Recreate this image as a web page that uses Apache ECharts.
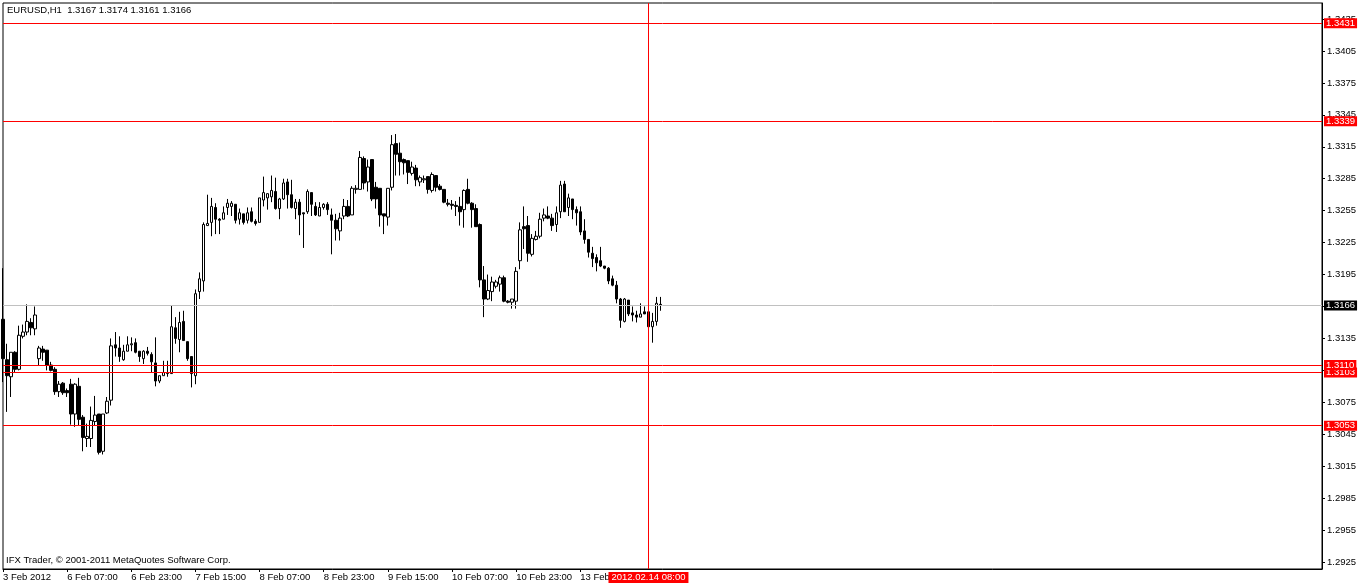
<!DOCTYPE html>
<html><head><meta charset="utf-8">
<script src="https://cdn.jsdelivr.net/npm/echarts@6/dist/echarts.min.js"></script>
<style>html,body{margin:0;padding:0;background:#fff}#c{width:1360px;height:586px}</style>
</head><body><div id="c"></div>
<script>
// ---- data (EURUSD H1, bars from 3 Feb 2012 15:00) ----
const opens = [1.3153,1.3115,1.3099,1.3122,1.3106,1.3137,1.3141,1.3150,1.3144,1.3116,1.3125,1.3124,1.3110,1.3106,1.3085,1.3093,1.3086,1.3092,1.3064,1.3090,1.3061,1.3041,1.3041,1.3057,1.3064,1.3029,1.3065,1.3077,1.3129,1.3126,1.3115,1.3123,1.3129,1.3131,1.3123,1.3116,1.3123,1.3120,1.3112,1.3095,1.3100,1.3102,1.3102,1.3145,1.3134,1.3151,1.3132,1.3118,1.3100,1.3179,1.3189,1.3241,1.3244,1.3258,1.3247,1.3247,1.3258,1.3259,1.3261,1.3247,1.3252,1.3246,1.3254,1.3245,1.3244,1.3265,1.3267,1.3268,1.3273,1.3257,1.3266,1.3282,1.3270,1.3257,1.3263,1.3253,1.3254,1.3272,1.3259,1.3250,1.3258,1.3261,1.3251,1.3246,1.3236,1.3250,1.3259,1.3251,1.3275,1.3275,1.3304,1.3282,1.3303,1.3277,1.3276,1.3252,1.3249,1.3277,1.3318,1.3309,1.3303,1.3302,1.3290,1.3295,1.3282,1.3284,1.3287,1.3274,1.3288,1.3278,1.3275,1.3262,1.3261,1.3260,1.3259,1.3256,1.3275,1.3262,1.3257,1.3242,1.3190,1.3172,1.3179,1.3184,1.3186,1.3192,1.3170,1.3169,1.3170,1.3208,1.3240,1.3241,1.3214,1.3228,1.3231,1.3248,1.3250,1.3248,1.3242,1.3254,1.3280,1.3258,1.3266,1.3256,1.3254,1.3236,1.3228,1.3215,1.3211,1.3208,1.3203,1.3201,1.3191,1.3185,1.3172,1.3151,1.3171,1.3159,1.3157,1.3155,1.3160,1.3160,1.3146,1.3151,1.3167];
const highs = [1.3201,1.3130,1.3122,1.3123,1.3147,1.3148,1.3167,1.3154,1.3165,1.3128,1.3128,1.3124,1.3113,1.3108,1.3095,1.3094,1.3088,1.3097,1.3093,1.3098,1.3063,1.3055,1.3071,1.3081,1.3064,1.3064,1.3080,1.3135,1.3141,1.3137,1.3129,1.3137,1.3136,1.3135,1.3123,1.3124,1.3127,1.3122,1.3136,1.3100,1.3114,1.3114,1.3166,1.3155,1.3160,1.3161,1.3132,1.3118,1.3181,1.3197,1.3244,1.3270,1.3267,1.3262,1.3248,1.3259,1.3266,1.3264,1.3261,1.3257,1.3252,1.3258,1.3258,1.3247,1.3267,1.3287,1.3271,1.3288,1.3286,1.3267,1.3285,1.3285,1.3284,1.3266,1.3266,1.3253,1.3275,1.3272,1.3263,1.3263,1.3262,1.3263,1.3257,1.3252,1.3253,1.3266,1.3265,1.3278,1.3279,1.3311,1.3306,1.3303,1.3303,1.3282,1.3276,1.3252,1.3276,1.3326,1.3327,1.3319,1.3304,1.3302,1.3301,1.3298,1.3288,1.3288,1.3287,1.3291,1.3288,1.3280,1.3275,1.3266,1.3265,1.3264,1.3268,1.3275,1.3285,1.3263,1.3261,1.3243,1.3203,1.3195,1.3193,1.3190,1.3194,1.3194,1.3171,1.3172,1.3202,1.3244,1.3259,1.3250,1.3233,1.3236,1.3253,1.3257,1.3259,1.3252,1.3259,1.3283,1.3283,1.3271,1.3266,1.3259,1.3259,1.3247,1.3228,1.3221,1.3214,1.3221,1.3203,1.3202,1.3194,1.3189,1.3173,1.3173,1.3171,1.3165,1.3161,1.3168,1.3165,1.3160,1.3159,1.3174,1.3174];
const lows = [1.3094,1.3066,1.3080,1.3103,1.3105,1.3135,1.3138,1.3138,1.3138,1.3110,1.3114,1.3105,1.3104,1.3082,1.3080,1.3082,1.3080,1.3054,1.3052,1.3053,1.3029,1.3033,1.3033,1.3053,1.3026,1.3026,1.3064,1.3072,1.3118,1.3113,1.3114,1.3123,1.3123,1.3121,1.3113,1.3111,1.3119,1.3103,1.3090,1.3093,1.3100,1.3099,1.3102,1.3130,1.3122,1.3133,1.3114,1.3089,1.3092,1.3172,1.3179,1.3241,1.3231,1.3233,1.3233,1.3247,1.3251,1.3250,1.3243,1.3242,1.3242,1.3243,1.3244,1.3241,1.3244,1.3259,1.3256,1.3263,1.3256,1.3247,1.3265,1.3257,1.3257,1.3247,1.3232,1.3220,1.3252,1.3250,1.3250,1.3250,1.3256,1.3251,1.3214,1.3227,1.3227,1.3247,1.3249,1.3251,1.3271,1.3275,1.3275,1.3273,1.3264,1.3257,1.3240,1.3233,1.3241,1.3274,1.3288,1.3288,1.3289,1.3280,1.3288,1.3278,1.3278,1.3281,1.3271,1.3272,1.3273,1.3274,1.3262,1.3259,1.3256,1.3250,1.3241,1.3239,1.3261,1.3239,1.3240,1.3183,1.3155,1.3171,1.3170,1.3182,1.3179,1.3169,1.3168,1.3163,1.3163,1.3200,1.3219,1.3207,1.3212,1.3227,1.3229,1.3245,1.3247,1.3236,1.3235,1.3248,1.3254,1.3250,1.3247,1.3241,1.3232,1.3224,1.3211,1.3202,1.3198,1.3202,1.3200,1.3186,1.3184,1.3168,1.3145,1.3150,1.3156,1.3151,1.3150,1.3155,1.3158,1.3145,1.3131,1.3147,1.3161];
const closes = [1.3116,1.3100,1.3122,1.3106,1.3138,1.3141,1.3151,1.3145,1.3157,1.3126,1.3122,1.3110,1.3105,1.3085,1.3092,1.3084,1.3084,1.3064,1.3092,1.3059,1.3042,1.3043,1.3058,1.3063,1.3028,1.3064,1.3076,1.3128,1.3126,1.3118,1.3123,1.3129,1.3130,1.3122,1.3118,1.3123,1.3121,1.3113,1.3095,1.3100,1.3103,1.3103,1.3146,1.3135,1.3150,1.3133,1.3116,1.3102,1.3177,1.3191,1.3242,1.3243,1.3259,1.3247,1.3246,1.3253,1.3262,1.3262,1.3246,1.3253,1.3244,1.3253,1.3245,1.3243,1.3267,1.3272,1.3271,1.3274,1.3257,1.3266,1.3281,1.3270,1.3258,1.3263,1.3251,1.3252,1.3273,1.3261,1.3251,1.3258,1.3261,1.3256,1.3246,1.3238,1.3248,1.3259,1.3250,1.3276,1.3276,1.3305,1.3281,1.3296,1.3266,1.3266,1.3251,1.3250,1.3276,1.3317,1.3308,1.3301,1.3300,1.3291,1.3296,1.3284,1.3286,1.3285,1.3275,1.3289,1.3277,1.3275,1.3263,1.3261,1.3260,1.3259,1.3254,1.3274,1.3262,1.3256,1.3240,1.3190,1.3172,1.3180,1.3188,1.3188,1.3192,1.3170,1.3169,1.3172,1.3198,1.3237,1.3238,1.3215,1.3229,1.3231,1.3247,1.3251,1.3248,1.3241,1.3253,1.3279,1.3254,1.3267,1.3256,1.3253,1.3235,1.3228,1.3216,1.3210,1.3206,1.3203,1.3201,1.3189,1.3185,1.3172,1.3152,1.3172,1.3158,1.3157,1.3155,1.3158,1.3158,1.3146,1.3151,1.3168,1.3166];

const levelLines = [1.3431, 1.3339, 1.3103, 1.3110, 1.3053];
const bidPrice = 1.3166;
const yTicks = [1.2925,1.2955,1.2985,1.3015,1.3045,1.3075,1.3105,1.3135,1.3165,1.3195,1.3225,1.3255,1.3285,1.3315,1.3345,1.3375,1.3405,1.3435];
const xTickLabels = ['3 Feb 2012','6 Feb 07:00','6 Feb 23:00','7 Feb 15:00','8 Feb 07:00','8 Feb 23:00','9 Feb 15:00','10 Feb 07:00','10 Feb 23:00','13 Feb 15:00','14 Feb 07:00'];
const xTickStep = 16;
const crosshairIndex = 161;
const crosshairLabel = '2012.02.14 08:00';
const headerText = 'EURUSD,H1  1.3167 1.3174 1.3161 1.3166';
const copyrightText = 'IFX Trader, \u00A9 2001-2011 MetaQuotes Software Corp.';
const totalSlots = 330;

// hourly trading-time categories (weekends skipped)
const categories = [];
(function () {
  let t = Date.UTC(2012, 1, 3, 15);
  const p = n => (n < 10 ? '0' : '') + n;
  while (categories.length < totalSlots) {
    const d = new Date(t);
    const wd = d.getUTCDay();
    if (wd !== 0 && wd !== 6) {
      categories.push(d.getUTCFullYear() + '.' + p(d.getUTCMonth() + 1) + '.' + p(d.getUTCDate()) + ' ' + p(d.getUTCHours()) + ':00');
    }
    t += 3600000;
  }
})();

const candleData = opens.map((o, i) => [o, closes[i], lows[i], highs[i]]);

const FONT = 'Liberation Sans';
const FS = 9.5;
const redLabel = {
  show: true, position: 'end', distance: 2,
  formatter: p => Number(p.value).toFixed(4),
  color: '#fff', backgroundColor: '#ff0000',
  fontFamily: FONT, fontSize: FS, lineHeight: 10, padding: [0, 2, 0, 2]
};

const chart = echarts.init(document.getElementById('c'), null, { renderer: 'canvas' });
chart.setOption({
  animation: false,
  backgroundColor: '#ffffff',
  grid: { left: 3, right: 38, top: 3, bottom: 17, show: true, borderColor: '#000', borderWidth: 1, backgroundColor: 'transparent' },
  xAxis: {
    type: 'category', data: categories, boundaryGap: false,
    axisLine: { show: true, lineStyle: { color: '#000', width: 1 } },
    axisTick: { show: true, length: 3, interval: i => i % xTickStep === 0 && i / xTickStep < xTickLabels.length, lineStyle: { color: '#000' } },
    axisLabel: {
      show: true, interval: i => i % xTickStep === 0 && i / xTickStep < xTickLabels.length,
      formatter: v => { const i = categories.indexOf(v); return xTickLabels[i / xTickStep] || ''; },
      align: 'left', margin: 3, color: '#000', fontFamily: FONT, fontSize: FS,
      showMinLabel: true, showMaxLabel: false, hideOverlap: false
    },
    splitLine: { show: false }
  },
  yAxis: {
    type: 'value', position: 'right', min: 1.291843, max: 1.345007, scale: true,
    axisLine: { show: true, lineStyle: { color: '#000', width: 1 } },
    axisTick: { show: true, length: 3, customValues: yTicks, lineStyle: { color: '#000' } },
    axisLabel: { show: true, customValues: yTicks, formatter: v => Number(v).toFixed(4), margin: 5, color: '#000', fontFamily: FONT, fontSize: FS },
    splitLine: { show: false }
  },
  series: [{
    type: 'candlestick',
    data: candleData,
    barWidth: 3,
    itemStyle: { color: '#ffffff', color0: '#000000', borderColor: '#000000', borderColor0: '#000000', borderWidth: 1 },
    markLine: {
      silent: true, animation: false, symbol: ['none', 'none'], precision: 4,
      data: [
        { yAxis: bidPrice, lineStyle: { color: '#c0c0c0', width: 1, type: 'solid' },
          label: Object.assign({}, redLabel, { backgroundColor: '#000000' }) },
        ...levelLines.map(v => ({ yAxis: v, lineStyle: { color: '#ff0000', width: 1, type: 'solid' }, label: redLabel })),
        { xAxis: categories[crosshairIndex], lineStyle: { color: '#ff0000', width: 1, type: 'solid' },
          label: { show: true, position: 'start', distance: 3, formatter: crosshairLabel, color: '#fff', backgroundColor: '#ff0000',
                   fontFamily: FONT, fontSize: FS, lineHeight: 11, padding: [0, 3, 0, 3] } }
      ]
    }
  }],
  graphic: [
    { type: 'text', left: 7, top: 5, z: 100, style: { text: headerText, fill: '#000', font: FS + 'px "' + FONT + '"' } },
    { type: 'text', left: 6, top: 555, z: 100, style: { text: copyrightText, fill: '#000', font: FS + 'px "' + FONT + '"' } }
  ]
});
</script>
</body></html>
